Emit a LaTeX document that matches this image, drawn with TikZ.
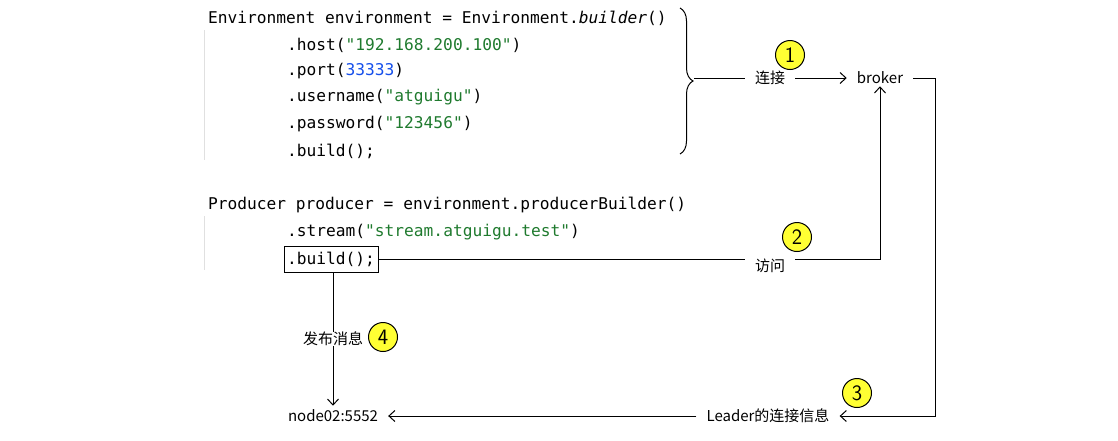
\documentclass[tikz,border=0pt]{standalone}
\usepackage{fontspec}
\newfontfamily\codefont{DejaVu Sans Mono}
\newfontfamily\cjk{Noto Sans CJK SC}
\usepackage{tikz}
\usetikzlibrary{positioning,decorations.pathreplacing,arrows.meta}
\definecolor{strgreen}{HTML}{1F7A2E}
\definecolor{numblue}{HTML}{1750EB}
\definecolor{markyellow}{HTML}{FFFF33}
\begin{document}
\begin{tikzpicture}[x=1pt,y=-1pt,
  code/.style={anchor=west, inner sep=0pt, font=\codefont\fontsize{16.2}{18}\selectfont},
  lbl/.style={font=\cjk\fontsize{15}{17}\selectfont, inner xsep=10pt, inner ysep=4pt},
  badge/.style={circle, draw, line width=1pt, fill=markyellow, minimum size=29pt, inner sep=0pt, font=\sffamily\fontsize{22}{24}\selectfont},
  link/.style={draw, line width=1pt},
  arr/.style={link, -{Straight Barb[length=6pt,width=11pt]}}]
\useasboundingbox (0,0) rectangle (1118,440);
% code
\node[code] (env) at (208,18) {Environment environment = Environment.\textit{builder}()};
\node[code] (host) at (287,45) {.host(\textcolor{strgreen}{"192.168.200.100"})};
\node[code] (port) at (287,71) {.port(\textcolor{numblue}{33333})};
\node[code] (user) at (287,97) {.username(\textcolor{strgreen}{"atguigu"})};
\node[code] (pass) at (287,124) {.password(\textcolor{strgreen}{"123456"})};
\node[code] (build1) at (287,151) {.build();};
\node[code] (prod) at (208,205) {Producer producer = environment.producerBuilder()};
\node[code] (strm) at (287,232) {.stream(\textcolor{strgreen}{"stream.atguigu.test"})};
\node[code, draw, inner sep=3pt, minimum height=26pt] (build2) at (284,259) {.build();};
\draw[black!12, line width=1pt] (204,30) -- (204,160) (204,216) -- (204,270);
% brace
\draw[decorate, decoration={brace, amplitude=13pt}, line width=1pt] (680,8) -- (680,154);
\coordinate (tip) at (694,78);
% labels
\node[lbl] (conn) at (770,78) {连接};
\node[lbl] (broker) at (880,78) {broker};
\node[lbl] (visit) at (770,266) {访问};
\node[lbl] (pub) at (333,339) {发布消息};
\node[lbl] (leader) at (768,416) {Leader的连接信息};
\node[lbl] (node02) at (333,416) {node02:5552};
\node[badge] (s1) at (790,55) {1};
\node[badge] (s2) at (797,237) {2};
\node[badge] (s3) at (857,393) {3};
\node[badge] (s4) at (383,337) {4};
% connectors
\draw[link] (tip) -- (conn);
\draw[arr] (conn) -- (broker);
\draw[link] (build2.east) -- (visit.west |- build2.east);
\draw[arr] (visit.east |- build2.east) -| ([yshift=2pt]broker.south);
\draw[arr] (broker.east) -- ++(22,0) |- (leader.east);
\draw[arr] (leader) -- (node02);
\draw[link] (build2.south -| node02) -- ([yshift=-4pt]pub.north -| node02);
\draw[arr] ([yshift=4pt]pub.south -| node02) -- (node02.north);
\end{tikzpicture}
\end{document}
